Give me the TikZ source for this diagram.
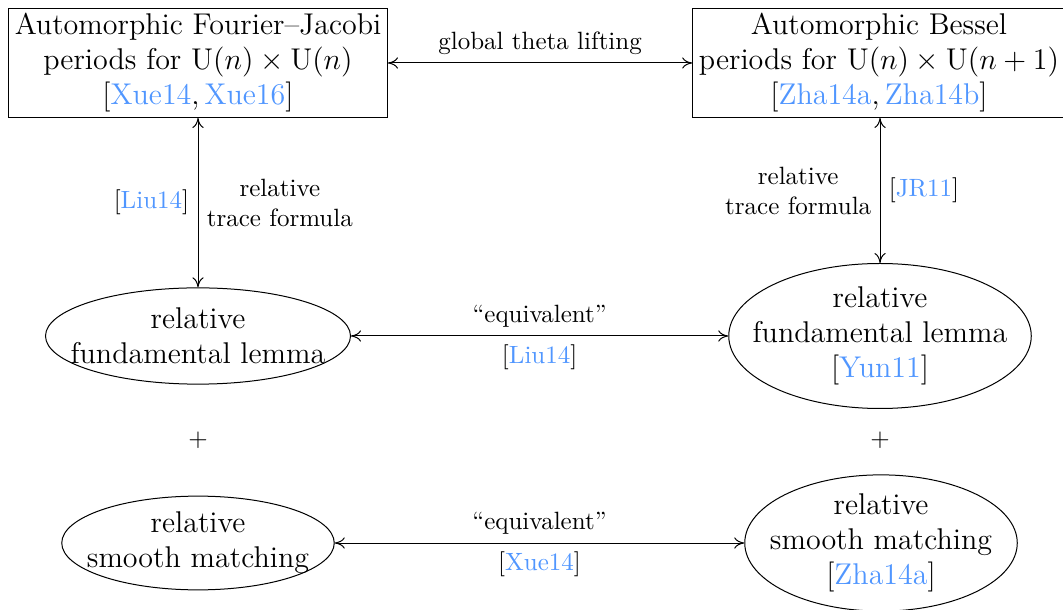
\documentclass[tikz,border=0pt]{standalone}
\usepackage{amsmath}
\usepackage{amssymb}
\usepackage{tikz}
\usetikzlibrary{shapes, arrows.meta, positioning}
\definecolor{citacolor}{RGB}{80,150,255}
\newcommand{\cita}[1]{[\textcolor{citacolor}{#1}]}
\newcommand{\citados}[2]{[\textcolor{citacolor}{#1},\,\textcolor{citacolor}{#2}]}
\tikzstyle{caja} = [draw, rectangle, align=center, font=\large, inner xsep=2.5pt, inner ysep=2pt]
\tikzstyle{ovalo} = [draw, ellipse, align=center, font=\large, inner xsep=-20pt, inner ysep=-6pt]
\tikzstyle{flecha} = [{To[length=4pt,width=4.5pt]}-{To[length=4pt,width=4.5pt]}, thin]
\tikzstyle{etiqueta} = [align=center, font=\normalsize]

\begin{document}
\begin{tikzpicture}[x=0.4pt, y=0.4pt]
	\useasboundingbox (0,0) rectangle (1063,-610);
	\node [caja] (fj) at (198,-63) {Automorphic Fourier--Jacobi\\periods for $\mathrm{U}(n)\times\mathrm{U}(n)$\\\citados{Xue14}{Xue16}};
	\node [caja] (bes) at (879,-63) {Automorphic Bessel\\periods for $\mathrm{U}(n)\times\mathrm{U}(n+1)$\\\citados{Zha14a}{Zha14b}};
	\node [ovalo, minimum width=122pt, minimum height=38.5pt] (flizq) at (198,-336) {relative\\fundamental lemma};
	\node [ovalo, minimum width=121pt, minimum height=58pt] (flder) at (880,-336) {relative\\fundamental lemma\\\cita{Yun11}};
	\node (masizq) at (198,-440) {$+$};
	\node (masder) at (880,-440) {$+$};
	\node [ovalo, minimum width=109pt, minimum height=37.5pt] (smizq) at (198,-543) {relative\\smooth matching};
	\node [ovalo, minimum width=109pt, minimum height=54.5pt] (smder) at (881,-543) {relative\\smooth matching\\\cita{Zha14a}};

	\draw [flecha] (fj) -- node[above, etiqueta] {global theta lifting} (bes);
	\draw [flecha] (fj) -- node[left, etiqueta] {\cita{Liu14}} node[right, etiqueta] {relative\\trace formula} (flizq);
	\draw [flecha] (bes.south -| flder.north) -- node[left, etiqueta] {relative\\trace formula} node[right, etiqueta] {\cita{JR11}} (flder.north);
	\draw [flecha] (flizq) -- node[above, etiqueta] {``equivalent''} node[below, etiqueta] {\cita{Liu14}} (flder);
	\draw [flecha] (smizq) -- node[above, etiqueta] {``equivalent''} node[below, etiqueta] {\cita{Xue14}} (smder);
\end{tikzpicture}
\end{document}
